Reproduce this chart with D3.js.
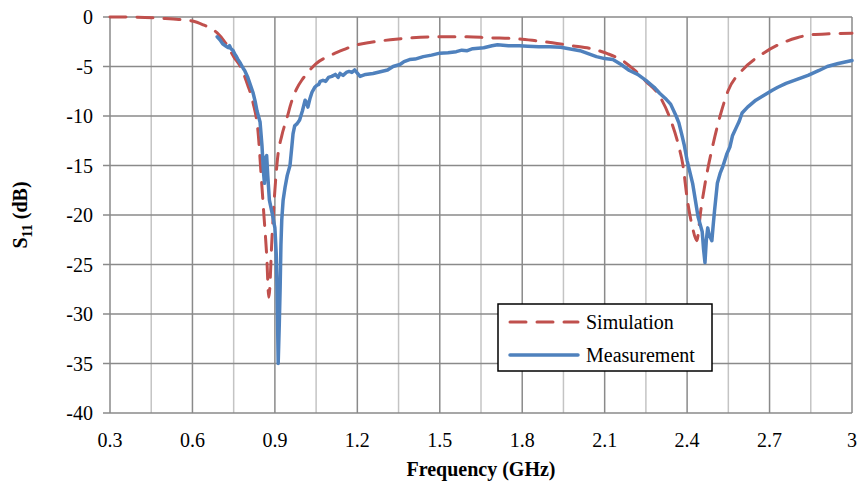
<!DOCTYPE html>
<html>
<head>
<meta charset="utf-8">
<script src="https://cdn.jsdelivr.net/npm/d3@7"></script>
<style>
  body { margin: 0; background: #fff; }
</style>
</head>
<body>
<div id="chart"></div>
<script>
// simulated S11 (GHz, dB)
const simFreq = [0.3, 0.4, 0.5, 0.55, 0.6, 0.64, 0.67, 0.69, 0.72, 0.75, 0.78, 0.8, 0.82, 0.84, 0.85, 0.86, 0.87, 0.878,
  0.89, 0.9, 0.91, 0.925, 0.944, 0.96, 0.98, 1.0, 1.02, 1.05, 1.1, 1.15, 1.2, 1.25, 1.32, 1.4, 1.5, 1.6, 1.68, 1.78,
  1.85, 1.91, 1.98, 2.05, 2.11, 2.17, 2.21, 2.25, 2.3, 2.34, 2.37, 2.385, 2.4, 2.42, 2.435, 2.45, 2.47, 2.49, 2.52,
  2.55, 2.6, 2.67, 2.74, 2.8, 2.85, 2.92, 3.0]
const simS11 = [0, -0.02, -0.15, -0.25, -0.4, -0.8, -1.2, -1.6, -2.6, -4.0, -5.3, -6.8, -8.6, -12, -16, -20, -24, -28.3,
  -22, -17.5, -14.2, -12, -10.2, -8.6, -7.2, -6.3, -5.6, -4.7, -3.9, -3.3, -2.8, -2.55, -2.3, -2.1, -2.0, -2.0, -2.1, -2.2,
  -2.4, -2.6, -2.9, -3.2, -3.7, -4.5, -5.4, -6.5, -8.0, -10.4, -13.1, -15, -18.3, -21.3, -22.6, -19.5, -16.1, -13.4, -10.0,
  -7.4, -5.4, -3.8, -2.7, -2.1, -1.8, -1.7, -1.65]

// measured S11
const measFreq = [0.69, 0.7, 0.71, 0.72, 0.73, 0.735, 0.74, 0.748, 0.755, 0.76, 0.766, 0.775, 0.785, 0.79, 0.8, 0.81,
  0.82, 0.828, 0.835, 0.846, 0.853, 0.858, 0.862, 0.866, 0.87, 0.874, 0.88, 0.89, 0.9, 0.905, 0.908, 0.912, 0.916,
  0.919, 0.922, 0.925, 0.93, 0.937, 0.945, 0.955, 0.962, 0.966, 0.972, 0.98, 0.99, 1.0, 1.01, 1.015, 1.02, 1.028,
  1.035, 1.045, 1.053, 1.06, 1.065, 1.075, 1.085, 1.095, 1.107, 1.12, 1.13, 1.137, 1.148, 1.16, 1.17, 1.18, 1.19,
  1.21, 1.23, 1.257, 1.28, 1.31, 1.33, 1.355, 1.37, 1.39, 1.41, 1.44, 1.47, 1.5, 1.53, 1.56, 1.58, 1.6, 1.62, 1.66,
  1.69, 1.71, 1.75, 1.79, 1.82, 1.86, 1.9, 1.94, 1.97, 2.01, 2.04, 2.07, 2.1, 2.13, 2.16, 2.19, 2.22, 2.25, 2.28,
  2.3, 2.32, 2.34, 2.36, 2.37, 2.38, 2.39, 2.4, 2.42, 2.43, 2.44, 2.455, 2.46, 2.465, 2.47, 2.475, 2.48, 2.49, 2.495,
  2.5, 2.51, 2.52, 2.53, 2.545, 2.556, 2.565, 2.58, 2.59, 2.6, 2.62, 2.65, 2.68, 2.71, 2.73, 2.76, 2.78, 2.8, 2.84,
  2.88, 2.91, 2.95, 3.0]
const measS11 = [-2.0, -2.3, -2.7, -2.9, -3.1, -2.9, -3.2, -3.4, -3.8, -4.0, -4.3, -4.7, -5.2, -5.4, -6.0, -6.8,
  -7.6, -8.5, -9.5, -10.6, -13.0, -15.5, -16.8, -14.2, -14.0, -16.0, -18.5, -19.8, -21.3, -24, -27.5, -35.0, -31,
  -27.5, -23, -20.5, -18.5, -17.2, -16.0, -15.0, -13, -11.8, -11.0, -10.8, -10.4, -9.5, -8.4, -8.6, -9.1, -8.2,
  -7.6, -7.1, -6.9, -6.8, -6.5, -6.4, -6.5, -6.1, -6.0, -5.8, -6.1, -5.7, -5.9, -5.6, -5.5, -5.6, -5.35,
  -6.0, -5.8, -5.7, -5.55, -5.35, -5.0, -4.8, -4.5, -4.3, -4.25, -4.0, -3.85, -3.65, -3.6, -3.5, -3.35, -3.4, -3.2, -3.1,
  -2.9, -2.8, -2.9, -2.9, -2.95, -3.0, -3.0, -3.06, -3.2, -3.4, -3.7, -4.0, -4.2, -4.3, -4.8, -5.4, -5.8, -6.4, -7.1,
  -7.7, -8.2, -8.8, -10.0, -10.7, -11.8, -13.0, -14.5, -16.8, -18.5, -20.2, -21.7, -23.5, -24.8, -22.5, -21.3, -22.0, -22.6, -21.0,
  -19.5, -16.8, -15.8, -15.1, -13.8, -13.1, -12.0, -11.1, -10.5, -9.7, -9.1, -8.4, -7.9, -7.4, -7.1, -6.7, -6.5, -6.3, -5.9,
  -5.4, -5.0, -4.7, -4.4]

const xTicks = [0.3, 0.6, 0.9, 1.2, 1.5, 1.8, 2.1, 2.4, 2.7, 3]
const xMinor = [0.45, 0.75, 1.05, 1.35, 1.65, 1.95, 2.25, 2.55, 2.85]
const yTicks = [0, -5, -10, -15, -20, -25, -30, -35, -40]

const series = [
  { name: 'Simulation', freq: simFreq, vals: simS11, color: '#C0504D', dash: '16,11', width: 3 },
  { name: 'Measurement', freq: measFreq, vals: measS11, color: '#4F81BD', dash: null, width: 3.5 }
]

const FONT = "'Liberation Serif'"

const W = 857, H = 484
const margin = { top: 17, right: 5, bottom: 71, left: 110 }
const width = W - margin.left - margin.right
const height = H - margin.top - margin.bottom

const svg = d3.select('#chart').append('svg')
  .attr('width', W)
  .attr('height', H)

const g = svg.append('g')
  .attr('transform', 'translate(' + margin.left + ',' + margin.top + ')')

const x = d3.scaleLinear().domain([0.3, 3]).range([0, width])
const y = d3.scaleLinear().domain([-40, 0]).range([height, 0])

// grid: light minor verticals first, then the darker ones
g.selectAll('.minor').data(xMinor).enter().append('line')
  .attr('x1', d => x(d)).attr('x2', d => x(d))
  .attr('y1', 0).attr('y2', height)
  .attr('stroke', '#c4c4c4').attr('stroke-width', 1.5)

g.selectAll('.major').data(xTicks).enter().append('line')
  .attr('x1', d => x(d)).attr('x2', d => x(d))
  .attr('y1', 0).attr('y2', height)
  .attr('stroke', '#8a8a8a').attr('stroke-width', 1.5)

g.selectAll('.hgrid').data(yTicks).enter().append('line')
  .attr('x1', -7).attr('x2', width)
  .attr('y1', d => y(d)).attr('y2', d => y(d))
  .attr('stroke', '#8a8a8a').attr('stroke-width', 1.5)

// tick labels
g.selectAll('.ylab').data(yTicks).enter().append('text')
  .attr('x', -17).attr('y', d => y(d))
  .attr('dy', '0.35em')
  .attr('text-anchor', 'end')
  .style('font-family', FONT)
  .style('font-size', '20px')
  .text(d => d)

g.selectAll('.xlab').data(xTicks).enter().append('text')
  .attr('x', d => x(d)).attr('y', height + 34)
  .attr('text-anchor', 'middle')
  .style('font-family', FONT)
  .style('font-size', '20px')
  .text(d => d)

// lines
const line = d3.line()
  .x(d => x(d[0]))
  .y(d => y(d[1]))

series.forEach(s => {
  const pts = s.freq.map((f, i) => [f, s.vals[i]])
  g.append('path')
    .datum(pts)
    .attr('fill', 'none')
    .attr('stroke', s.color)
    .attr('stroke-width', s.width)
    .attr('stroke-linejoin', 'round')
    .attr('stroke-linecap', 'round')
    .attr('stroke-dasharray', s.dash)
    .attr('d', s.dash ? line.curve(d3.curveMonotoneX) : line.curve(d3.curveLinear))
})

// axis titles
svg.append('text')
  .attr('x', margin.left + width / 2)
  .attr('y', 484 - 8)
  .attr('text-anchor', 'middle')
  .style('font-family', FONT)
  .style('font-size', '20px')
  .style('font-weight', 'bold')
  .text('Frequency (GHz)')

const yt = svg.append('text')
  .attr('transform', 'translate(27,' + (margin.top + height / 2) + ') rotate(-90)')
  .attr('text-anchor', 'middle')
  .style('font-family', FONT)
  .style('font-size', '20px')
  .style('font-weight', 'bold')
yt.append('tspan').text('S')
yt.append('tspan').attr('dy', 5).style('font-size', '14px').text('11')
yt.append('tspan').attr('dy', -5).text(' (dB)')

// legend
const leg = svg.append('g').attr('transform', 'translate(498,304)')
leg.append('rect')
  .attr('width', 214).attr('height', 67)
  .attr('fill', '#fff').attr('stroke', '#000').attr('stroke-width', 1.5)

series.forEach((s, i) => {
  const ly = 18 + i * 33
  leg.append('line')
    .attr('x1', 12).attr('x2', 80)
    .attr('y1', ly).attr('y2', ly)
    .attr('stroke', s.color)
    .attr('stroke-width', s.width)
    .attr('stroke-linecap', 'round')
    .attr('stroke-dasharray', s.dash)
  leg.append('text')
    .attr('x', 88).attr('y', ly)
    .attr('dy', '0.35em')
    .style('font-family', FONT)
    .style('font-size', '20px')
    .text(s.name)
})
</script>
</body>
</html>
